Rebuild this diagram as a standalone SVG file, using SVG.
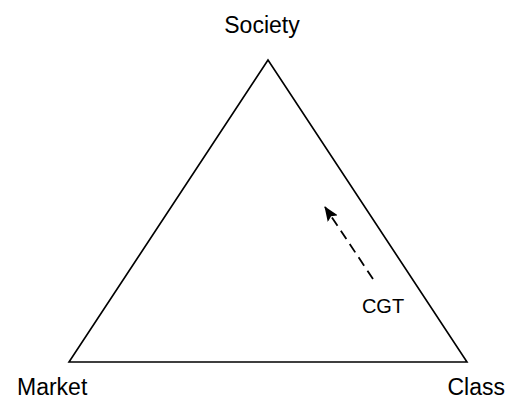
<svg xmlns="http://www.w3.org/2000/svg" width="506" height="402" viewBox="0 0 506 402">
<style>
text{font-family:"Liberation Sans",Arial,sans-serif;font-size:23px;fill:#000}
.edge{fill:none;stroke:#000;stroke-width:1.6}
</style>
<defs>
<marker id="ah" markerWidth="15" markerHeight="12" refX="14" refY="6" orient="auto" markerUnits="userSpaceOnUse">
<path d="M0,0 L15,6 L0,12 L3,6 Z" fill="#000"/>
</marker>
</defs>
<rect width="506" height="402" fill="#fff"/>
<g id="connectors">
<path class="edge" d="M268,60 L69,362 L467,362 Z" stroke-linejoin="miter"/>
<path d="M373,279 L325,207" fill="none" stroke="#000" stroke-width="1.8" stroke-dasharray="10,6" marker-end="url(#ah)"/>
</g>
<g id="society"><text x="262" y="33" text-anchor="middle">Society</text></g>
<g id="market"><text x="17" y="395">Market</text></g>
<g id="class"><text x="505" y="395" text-anchor="end">Class</text></g>
<g id="cgt"><text x="383" y="313" text-anchor="middle" style="font-size:20px">CGT</text></g>
</svg>
